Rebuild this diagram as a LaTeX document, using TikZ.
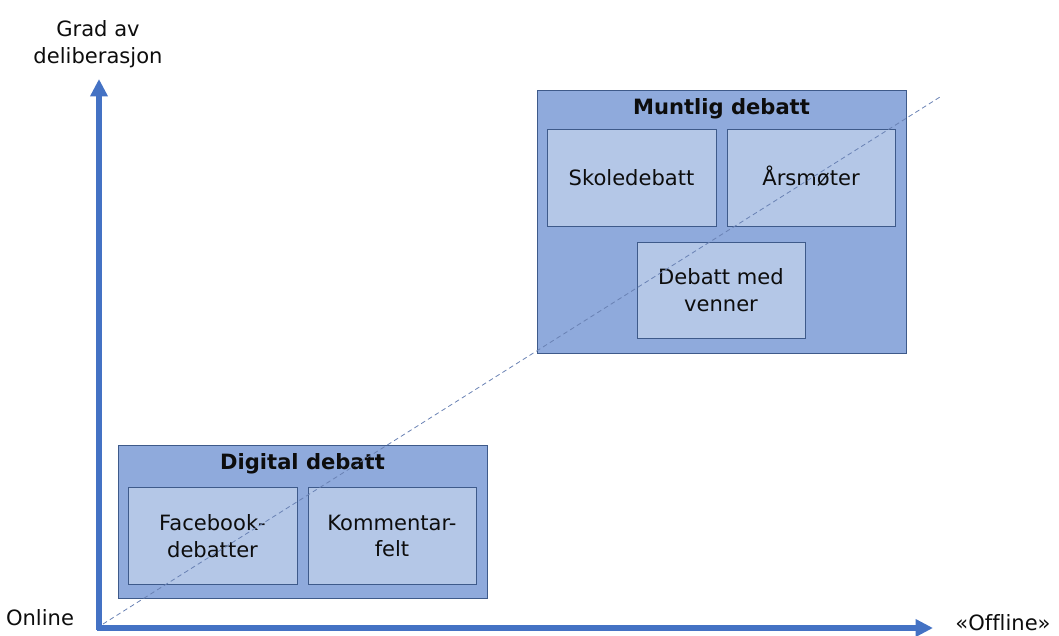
\documentclass[tikz,border=0pt]{standalone}
\usepackage{fontspec}
\setmainfont[Ligatures=NoCommon]{DejaVu Sans}
\usetikzlibrary{arrows.meta}
\definecolor{axisblue}{HTML}{4472C4}
\definecolor{outerfill}{HTML}{8FAADC}
\definecolor{innerfill}{HTML}{B4C7E7}
\definecolor{boxline}{HTML}{3E5A8A}
\definecolor{dashc}{HTML}{6A82B4}
\definecolor{txt}{HTML}{0D0D0D}
\begin{document}
\begin{tikzpicture}[x=0.75pt,y=-0.75pt,
  outerbox/.style={draw=boxline,line width=0.6pt,fill=outerfill},
  innerbox/.style={draw=boxline,line width=0.6pt,fill=innerfill},
  lbl/.style={text=txt,align=center,font=\fontsize{15.8}{20}\selectfont,inner sep=0pt},
  one/.style={text height=11.5pt,text depth=3.5pt},
  ttl/.style={text=txt,font=\bfseries\fontsize{15.8}{20}\selectfont,inner sep=0pt,text height=11.5pt,text depth=3.5pt},
  axis/.style={axisblue,line width=3.8pt,-{Triangle[length=13pt,width=12.5pt]}}]
\useasboundingbox (0,0) rectangle (1059,635);
% Muntlig debatt
\path[outerbox] (537,90) rectangle (906,353);
\node[ttl] (mt) at (721.5,109) {Muntlig debatt};
\path[innerbox] (547,129) rectangle (716,226);
\node[lbl,one] (sk) at (631.5,180) {Skoledebatt};
\path[innerbox] (727,129) rectangle (895,226);
\node[lbl,one] (ar) at (811,180) {Årsmøter};
\path[innerbox] (637,242) rectangle (805,338);
\node[lbl] (dv) at (721,290) {Debatt med\\venner};
% Digital debatt
\path[outerbox] (118,445) rectangle (487,598);
\node[ttl] (dt) at (302.5,464) {Digital debatt};
\path[innerbox] (128,487) rectangle (297,584);
\node[lbl] (fb) at (212.5,536) {Facebook-\\debatter};
\path[innerbox] (308,487) rectangle (476,584);
\node[lbl] (km) at (392,536) {Kommentar-\\felt};
% dashed diagonal
\coordinate (d0) at (103,624);
\coordinate (d1) at (940,97);
\draw[dashc,line width=0.6pt,dash pattern=on 3.5pt off 2.5pt] (d0) -- (d1);
% axes
\coordinate (yt) at (99,79);
\coordinate (xt) at (933,628);
\coordinate (ys) at (99,630);
\coordinate (xs) at (97,628);
\draw[axis] (ys) -- (yt);
\draw[axis] (xs) -- (xt);
% axis labels
\node[lbl] (gd) at (98,44) {Grad av\\deliberasjon};
\node[lbl,one] (on) at (40,620) {Online};
\node[lbl,one] (off) at (1003,625) {«Offline»};
\end{tikzpicture}
\end{document}
